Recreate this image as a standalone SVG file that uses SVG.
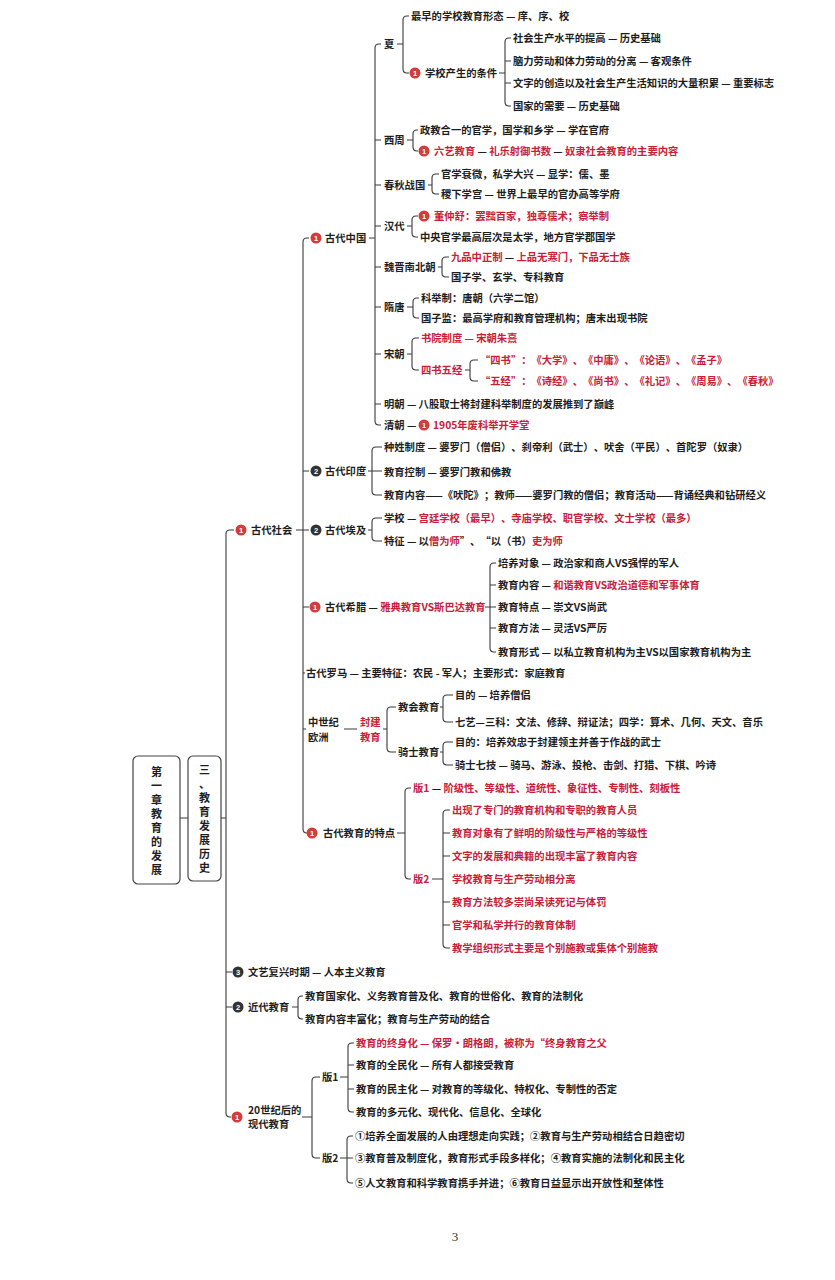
<svg xmlns="http://www.w3.org/2000/svg" width="835" height="1280" viewBox="0 0 835 1280">
<style>
.t{font-family:"Noto Sans CJK SC","Noto Sans",sans-serif;font-size:10.3px;font-weight:700;fill:#1e1e1e;text-spacing-trim:space-all}
.r{fill:#c9203a}
.k{fill:#1e1e1e}
.c{fill:none;stroke:#3a3a3a;stroke-width:1.1}
.dr{fill:#d43b3b}
.dk{fill:#333}
.n{font-family:"Liberation Sans",sans-serif;font-size:7.5px;font-weight:700;fill:#fff;text-anchor:middle}
.v{font-family:"Noto Sans CJK SC",sans-serif;font-size:11px;font-weight:700;fill:#1e1e1e;text-anchor:middle}
.box{fill:#fff;stroke:#444;stroke-width:1.2}
</style>
<rect width="835" height="1280" fill="#fff"/>

<g id="connectors">
<path class="c" d="M180,818 H188 M221,818 H226 M234,530 H230 Q226,530 226,534 V1113 Q226,1117 230,1117 H231 M226,972 H232 M226,1007 H232"/>
<path class="c" d="M296,530 H303 M309,238 H307 Q303,238 303,242 V829 Q303,833 307,833 H307 M303,471 H309 M303,530 H309 M303,607 H309 M303,673 H305 M303,729 H306"/>
<path class="c" d="M369,238 H375 M381,44 H379 Q375,44 375,48 V421 Q375,425 379,425 H381 M375,140 H381 M375,185 H381 M375,226 H381 M375,267 H381 M375,307 H381 M375,354 H381 M375,404 H381"/>
<path class="c" d="M397,44 H403 M409,16 H407 Q403,16 403,20 V69 Q403,73 407,73 H409"/>
<path class="c" d="M499,73 H505 M511,38 H509 Q505,38 505,42 V102 Q505,106 509,106 H511 M505,61 H511 M505,83 H511"/>
<path class="c" d="M407,140 H413 M418,130 H417 Q413,130 413,134 V147 Q413,151 417,151 H418"/>
<path class="c" d="M428,185 H432 M439,174 H436 Q432,174 432,178 V190 Q432,194 436,194 H439"/>
<path class="c" d="M407,226 H412 M418,216 H416 Q412,216 412,220 V233 Q412,237 416,237 H418"/>
<path class="c" d="M438,267 H442 M449,257 H446 Q442,257 442,261 V273 Q442,277 446,277 H449"/>
<path class="c" d="M407,307 H413 M419,298 H417 Q413,298 413,302 V314 Q413,318 417,318 H419"/>
<path class="c" d="M407,354 H412 M419,338 H416 Q412,338 412,342 V366 Q412,370 416,370 H419"/>
<path class="c" d="M465,370 H470 M478,360 H474 Q470,360 470,364 V377 Q470,381 474,381 H478"/>
<path class="c" d="M368,471 H372 M382,447 H376 Q372,447 372,451 V491 Q372,495 376,495 H382 M372,471 H382"/>
<path class="c" d="M368,530 H372 M382,518 H376 Q372,518 372,522 V537 Q372,541 376,541 H382"/>
<path class="c" d="M485,607 H490 M496,563 H494 Q490,563 490,567 V648 Q490,652 494,652 H496 M490,585 H496 M490,607 H496 M490,628 H496"/>
<path class="c" d="M344,729 H357 M383,729 H387 M396,707 H391 Q387,707 387,711 V748 Q387,752 391,752 H396"/>
<path class="c" d="M440,707 H443 M453,695 H447 Q443,695 443,699 V718 Q443,722 447,722 H453"/>
<path class="c" d="M440,752 H443 M453,742 H447 Q443,742 443,746 V761 Q443,765 447,765 H453"/>
<path class="c" d="M397,833 H405 M411,788 H409 Q405,788 405,792 V875 Q405,879 409,879 H411"/>
<path class="c" d="M432,879 H443 M450,810 H447 Q443,810 443,814 V944 Q443,948 447,948 H450 M443,833 H450 M443,856 H450 M443,902 H450 M443,925 H450"/>
<path class="c" d="M292,1007 H298 M303,996 H302 Q298,996 298,1000 V1015 Q298,1019 302,1019 H303"/>
<path class="c" d="M302,1117 H312 M320,1077 H316 Q312,1077 312,1081 V1154 Q312,1158 316,1158 H320"/>
<path class="c" d="M340,1077 H348 M354,1043 H352 Q348,1043 348,1047 V1108 Q348,1112 352,1112 H354 M348,1065 H354 M348,1089 H354"/>
<path class="c" d="M340,1158 H347 M353,1136 H351 Q347,1136 347,1140 V1179 Q347,1183 351,1183 H353 M347,1158 H353"/>
</g>

<g id="chapter">
<rect class="box" x="133" y="756" width="47" height="128" rx="5"/>
<text class="v" x="156.5" y="776">第</text>
<text class="v" x="156.5" y="790">一</text>
<text class="v" x="156.5" y="804">章</text>
<text class="v" x="156.5" y="818">教</text>
<text class="v" x="156.5" y="832">育</text>
<text class="v" x="156.5" y="846">的</text>
<text class="v" x="156.5" y="860">发</text>
<text class="v" x="156.5" y="874">展</text>
</g>
<g id="section">
<rect class="box" x="188" y="756" width="33" height="125" rx="5"/>
<text class="v" x="204.5" y="774">三</text>
<text class="v" x="204.5" y="788">、</text>
<text class="v" x="204.5" y="802">教</text>
<text class="v" x="204.5" y="816">育</text>
<text class="v" x="204.5" y="830">发</text>
<text class="v" x="204.5" y="844">展</text>
<text class="v" x="204.5" y="858">历</text>
<text class="v" x="204.5" y="872">史</text>
</g>

<g id="ancient-society"><circle class="dr" cx="241" cy="530" r="5.5"/><text class="n" x="241" y="532.7">1</text><text class="t" x="251" y="534">古代社会</text></g>

<g id="ancient-china"><circle class="dr" cx="316" cy="238" r="5.5"/><text class="n" x="316" y="240.7">1</text><text class="t" x="325" y="242">古代中国</text></g>
<g id="xia"><text class="t" x="384" y="48">夏</text></g>
<g id="xia-1"><text class="t" x="411" y="20">最早的学校教育形态 — 庠、序、校</text></g>
<g id="xia-2"><circle class="dr" cx="415" cy="73" r="5.5"/><text class="n" x="415" y="75.7">1</text><text class="t" x="425" y="77">学校产生的条件</text></g>
<g id="cond-1"><text class="t" x="513" y="42">社会生产水平的提高 — 历史基础</text></g>
<g id="cond-2"><text class="t" x="513" y="65">脑力劳动和体力劳动的分离 — 客观条件</text></g>
<g id="cond-3"><text class="t" x="513" y="87">文字的创造以及社会生产生活知识的大量积累 — 重要标志</text></g>
<g id="cond-4"><text class="t" x="513" y="110">国家的需要 — 历史基础</text></g>
<g id="xizhou"><text class="t" x="384" y="144">西周</text></g>
<g id="xizhou-1"><text class="t" x="420" y="134">政教合一的官学，国学和乡学 — 学在官府</text></g>
<g id="xizhou-2"><circle class="dr" cx="424" cy="151" r="5.5"/><text class="n" x="424" y="153.7">1</text><text class="t" x="434" y="155"><tspan class="r">六艺教育</tspan> — <tspan class="r">礼乐射御书数</tspan> — <tspan class="r">奴隶社会教育的主要内容</tspan></text></g>
<g id="chunqiu"><text class="t" x="384" y="189">春秋战国</text></g>
<g id="chunqiu-1"><text class="t" x="441" y="178">官学衰微，私学大兴 — 显学：儒、墨</text></g>
<g id="chunqiu-2"><text class="t" x="441" y="198">稷下学宫 — 世界上最早的官办高等学府</text></g>
<g id="han"><text class="t" x="384" y="230">汉代</text></g>
<g id="han-1"><circle class="dr" cx="424" cy="216" r="5.5"/><text class="n" x="424" y="218.7">1</text><text class="t r" x="434" y="220">董仲舒：罢黜百家，独尊儒术；察举制</text></g>
<g id="han-2"><text class="t" x="420" y="241">中央官学最高层次是太学，地方官学郡国学</text></g>
<g id="weijin"><text class="t" x="384" y="271">魏晋南北朝</text></g>
<g id="weijin-1"><text class="t" x="451" y="261"><tspan class="r">九品中正制</tspan> — <tspan class="r">上品无寒门，下品无士族</tspan></text></g>
<g id="weijin-2"><text class="t" x="451" y="281">国子学、玄学、专科教育</text></g>
<g id="suitang"><text class="t" x="384" y="311">隋唐</text></g>
<g id="suitang-1"><text class="t" x="421" y="302">科举制：唐朝（六学二馆）</text></g>
<g id="suitang-2"><text class="t" x="421" y="322">国子监：最高学府和教育管理机构；唐末出现书院</text></g>
<g id="song"><text class="t" x="384" y="358">宋朝</text></g>
<g id="song-1"><text class="t r" x="421" y="342">书院制度 — 宋朝朱熹</text></g>
<g id="song-2"><text class="t r" x="421" y="374">四书五经</text></g>
<g id="sishu"><text class="t r" x="480" y="364">“四书”：《大学》、《中庸》、《论语》、《孟子》</text></g>
<g id="wujing"><text class="t r" x="480" y="385">“五经”：《诗经》、《尚书》、《礼记》、《周易》、《春秋》</text></g>
<g id="ming"><text class="t" x="384" y="408">明朝 — 八股取士将封建科举制度的发展推到了巅峰</text></g>
<g id="qing"><text class="t" x="384" y="429">清朝 —</text><circle class="dr" cx="424" cy="425" r="5.5"/><text class="n" x="424" y="427.7">1</text><text class="t r" x="433" y="429">1905年废科举开学堂</text></g>

<g id="ancient-india"><circle class="dk" cx="316" cy="471" r="5.5"/><text class="n" x="316" y="473.7">2</text><text class="t" x="325" y="475">古代印度</text></g>
<g id="india-1"><text class="t" x="384" y="451">种姓制度 — 婆罗门（僧侣）、刹帝利（武士）、吠舍（平民）、首陀罗（奴隶）</text></g>
<g id="india-2"><text class="t" x="384" y="476">教育控制 — 婆罗门教和佛教</text></g>
<g id="india-3"><text class="t" x="384" y="499">教育内容——《吠陀》；教师——婆罗门教的僧侣；教育活动——背诵经典和钻研经义</text></g>

<g id="ancient-egypt"><circle class="dk" cx="316" cy="530" r="5.5"/><text class="n" x="316" y="532.7">2</text><text class="t" x="325" y="534">古代埃及</text></g>
<g id="egypt-1"><text class="t" x="384" y="522">学校 — <tspan class="r">宫廷学校（最早）、寺庙学校、职官学校、文士学校（最多）</tspan></text></g>
<g id="egypt-2"><text class="t" x="384" y="545">特征 — 以<tspan class="r">僧为师</tspan>”、“以（书）<tspan class="r">吏为师</tspan></text></g>

<g id="ancient-greece"><circle class="dr" cx="315" cy="607" r="5.5"/><text class="n" x="315" y="609.7">1</text><text class="t" x="325" y="611">古代希腊 — <tspan class="r">雅典教育VS斯巴达教育</tspan></text></g>
<g id="greece-1"><text class="t" x="498" y="567">培养对象 — 政治家和商人VS强悍的军人</text></g>
<g id="greece-2"><text class="t" x="498" y="589">教育内容 — <tspan class="r">和谐教育VS政治道德和军事体育</tspan></text></g>
<g id="greece-3"><text class="t" x="498" y="611">教育特点 — 崇文VS尚武</text></g>
<g id="greece-4"><text class="t" x="498" y="632">教育方法 — 灵活VS严厉</text></g>
<g id="greece-5"><text class="t" x="498" y="656">教育形式 — 以私立教育机构为主VS以国家教育机构为主</text></g>

<g id="ancient-rome"><text class="t" x="306" y="677">古代罗马 — 主要特征：农民 - 军人；主要形式：家庭教育</text></g>

<g id="medieval"><text class="t" x="308" y="726">中世纪</text><text class="t" x="308" y="741">欧洲</text></g>
<g id="feudal"><text class="t r" x="360" y="726">封建</text><text class="t r" x="360" y="741">教育</text></g>
<g id="church"><text class="t" x="398" y="711">教会教育</text></g>
<g id="church-1"><text class="t" x="455" y="699">目的 — 培养僧侣</text></g>
<g id="church-2"><text class="t" x="455" y="726">七艺—三科：文法、修辞、辩证法；四学：算术、几何、天文、音乐</text></g>
<g id="knight"><text class="t" x="398" y="756">骑士教育</text></g>
<g id="knight-1"><text class="t" x="455" y="746">目的：培养效忠于封建领主并善于作战的武士</text></g>
<g id="knight-2"><text class="t" x="455" y="769">骑士七技 — 骑马、游泳、投枪、击剑、打猎、下棋、吟诗</text></g>

<g id="features"><circle class="dr" cx="312" cy="833" r="5.5"/><text class="n" x="312" y="835.7">1</text><text class="t" x="323" y="837">古代教育的特点</text></g>
<g id="feat-v1"><text class="t" x="413" y="792"><tspan class="r">版1</tspan> — <tspan class="r">阶级性、等级性、道统性、象征性、专制性、刻板性</tspan></text></g>
<g id="feat-v2"><text class="t r" x="413" y="883">版2</text></g>
<g id="feat-1"><text class="t r" x="452" y="814">出现了专门的教育机构和专职的教育人员</text></g>
<g id="feat-2"><text class="t r" x="452" y="837">教育对象有了鲜明的阶级性与严格的等级性</text></g>
<g id="feat-3"><text class="t r" x="452" y="860">文字的发展和典籍的出现丰富了教育内容</text></g>
<g id="feat-4"><text class="t r" x="452" y="883">学校教育与生产劳动相分离</text></g>
<g id="feat-5"><text class="t r" x="452" y="906">教育方法较多崇尚呆读死记与体罚</text></g>
<g id="feat-6"><text class="t r" x="452" y="929">官学和私学并行的教育体制</text></g>
<g id="feat-7"><text class="t r" x="452" y="952">教学组织形式主要是个别施教或集体个别施教</text></g>

<g id="renaissance"><circle class="dk" cx="238" cy="972" r="5.5"/><text class="n" x="238" y="974.7">3</text><text class="t" x="248" y="976">文艺复兴时期 — 人本主义教育</text></g>

<g id="modern"><circle class="dk" cx="238" cy="1007" r="5.5"/><text class="n" x="238" y="1009.7">2</text><text class="t" x="248" y="1011">近代教育</text></g>
<g id="modern-1"><text class="t" x="305" y="1000">教育国家化、义务教育普及化、教育的世俗化、教育的法制化</text></g>
<g id="modern-2"><text class="t" x="305" y="1023">教育内容丰富化；教育与生产劳动的结合</text></g>

<g id="c20"><circle class="dr" cx="237" cy="1117" r="5.5"/><text class="n" x="237" y="1119.7">1</text><text class="t" x="248" y="1114">20世纪后的</text><text class="t" x="248" y="1128">现代教育</text></g>
<g id="c20-v1"><text class="t" x="322" y="1081">版1</text></g>
<g id="c20-v1-1"><text class="t r" x="356" y="1047">教育的终身化 — 保罗·朗格朗，被称为“终身教育之父</text></g>
<g id="c20-v1-2"><text class="t" x="356" y="1069">教育的全民化 — 所有人都接受教育</text></g>
<g id="c20-v1-3"><text class="t" x="356" y="1093">教育的民主化 — 对教育的等级化、特权化、专制性的否定</text></g>
<g id="c20-v1-4"><text class="t" x="356" y="1116">教育的多元化、现代化、信息化、全球化</text></g>
<g id="c20-v2"><text class="t" x="322" y="1162">版2</text></g>
<g id="c20-v2-1"><text class="t" x="355" y="1140">①培养全面发展的人由理想走向实践；②教育与生产劳动相结合日趋密切</text></g>
<g id="c20-v2-2"><text class="t" x="355" y="1162">③教育普及制度化，教育形式手段多样化；④教育实施的法制化和民主化</text></g>
<g id="c20-v2-3"><text class="t" x="355" y="1187">⑤人文教育和科学教育携手并进；⑥教育日益显示出开放性和整体性</text></g>

<text x="455" y="1241" font-family="Liberation Serif, serif" font-size="13" fill="#333" text-anchor="middle">3</text>
</svg>
